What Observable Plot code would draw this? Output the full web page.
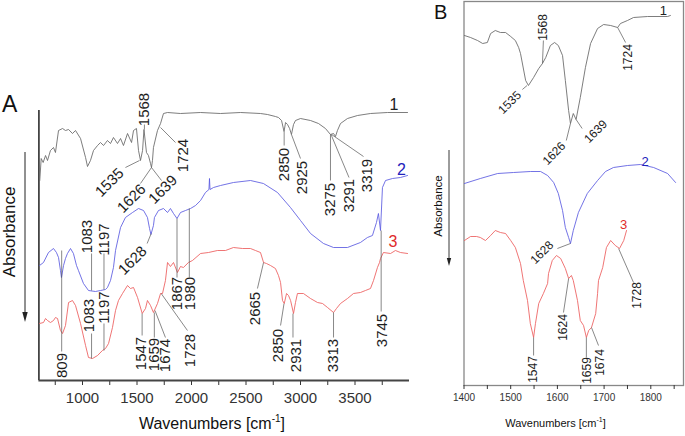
<!DOCTYPE html>
<html>
<head>
<meta charset="utf-8">
<script src="https://cdn.jsdelivr.net/npm/d3@7"></script>
<script src="https://cdn.jsdelivr.net/npm/@observablehq/plot@0.6"></script>
<style>
html,body{margin:0;padding:0;background:#fff;}
#wrap{position:relative;width:685px;height:436px;overflow:hidden;background:#fff;}
#wrap svg{position:absolute;left:0;top:0;}
</style>
</head>
<body>
<div id="wrap"></div>
<script>
// ---------- Panel A: wavenumber (cm-1) vs. absorbance (a.u., spectra offset) ----------
const waveA1 = [608,621,639,661,679,706,734,752,780,817,844,872,908,936,982,1028,1046,1073,1101,1138,1165,1193,1229,1257,1284,1321,1349,1376,1413,1450,1468,1495,1514,1532,1551,1564,1587,1605,1624,1633,1642,1651,1688,1716,1743,1780,1899,2083,2266,2450,2633,2697,2770,2798,2826,2849,2863,2881,2900,2917,2936,2954,3000,3092,3165,3229,3275,3303,3321,3339,3367,3431,3523,3642,3798,3982];
const absA1  = [200,222,218,225,220,230,233,228,250,252,250,251,247,250,242,223,214,220,230,235,238,235,240,237,243,237,242,235,247,238,250,252,230,220,230,251,228,225,217,213,220,233,250,257,267,268,267,268,267,268,267,266,264,263,260,249,258,256,252,246,256,260,262,260,257,252,246,247,244,250,257,262,265,267,268,268];

const waveA2 = [606,642,688,734,761,780,798,807,826,844,862,890,917,945,963,1009,1055,1119,1165,1211,1229,1257,1284,1303,1349,1394,1459,1514,1560,1596,1615,1628,1651,1660,1697,1743,1780,1807,1835,1867,1899,1945,1991,2037,2083,2128,2160,2165,2170,2202,2266,2385,2541,2660,2789,2908,3000,3092,3211,3303,3431,3550,3614,3660,3697,3715,3734,3752,3780,3844,3917,3982];
const absA2  = [115,118,128,132,128,123,110,103,115,122,127,132,127,115,110,97,90,89,90,91,93,100,113,130,153,163,168,172,170,163,152,146,155,163,170,172,168,172,167,162,168,170,172,175,180,188,191,202,191,193,195,198,200,197,188,173,160,147,137,133,133,138,143,145,158,167,150,193,200,202,203,205];

const waveA3 = [606,642,661,679,706,734,752,771,798,817,844,872,908,936,982,1028,1055,1092,1138,1183,1211,1239,1275,1303,1330,1367,1413,1440,1468,1505,1548,1578,1596,1624,1651,1688,1716,1734,1761,1780,1807,1835,1871,1899,1926,1972,2009,2083,2156,2238,2312,2385,2468,2541,2587,2633,2661,2688,2725,2770,2798,2817,2835,2851,2872,2890,2909,2936,2954,2972,3027,3092,3156,3202,3248,3303,3330,3367,3431,3486,3550,3596,3642,3670,3706,3725,3734,3761,3826,3871,3917,3982];
const absA3  = [57,58,62,60,58,60,63,62,50,47,55,78,80,75,57,35,23,22,25,30,32,37,53,70,80,87,95,92,93,83,67,72,80,75,68,77,87,87,100,118,114,118,108,114,113,118,120,127,128,130,130,133,132,132,130,128,118,117,115,112,105,98,80,77,87,85,80,67,78,87,87,82,78,77,73,68,72,77,82,87,88,90,92,100,113,118,122,128,127,130,128,127];

const ticksA = [750,1000,1250,1500,1750,2000,2250,2500,2750,3000,3250,3500,3750];
const tickLabelsA = [1000,1500,2000,2500,3000,3500];

// peak annotations, panel A: leader from (x1,y1) to (x2,y2), label centred at (tx,ty), rotation r
const annA1 = [
  {t:"1568", x1:1568, y1:251, x2:1568, y2:256, tx:1570, ty:271, r:-90},
  {t:"1535", x1:1523, y1:220, x2:1394, y2:213, tx:1248, ty:198, r:-45},
  {t:"1626", x1:1633, y1:213, x2:1532, y2:197, tx:1450, ty:182, r:-45},
  {t:"1639", x1:1633, y1:213, x2:1725, y2:200, tx:1738, ty:191, r:-45},
  {t:"1724", x1:1716, y1:253, x2:1853, y2:238, tx:1922, ty:225, r:-90},
  {t:"2850", x1:2850, y1:249, x2:2850, y2:235, tx:2853, ty:216, r:-90},
  {t:"2925", x1:2917, y1:246, x2:3000, y2:222, tx:3014, ty:203, r:-90},
  {t:"3275", x1:3275, y1:246, x2:3275, y2:200, tx:3275, ty:181, r:-90},
  {t:"3291", x1:3280, y1:246, x2:3445, y2:203, tx:3445, ty:185, r:-90},
  {t:"3319", x1:3285, y1:246, x2:3578, y2:224, tx:3610, ty:205, r:-90}
];
const annA2 = [
  {t:"1083", x1:1083, y1:90,  x2:1083, y2:127, tx:1040, ty:144, r:-90},
  {t:"1197", x1:1197, y1:91,  x2:1197, y2:127, tx:1202, ty:141, r:-90},
  {t:"1628", x1:1630, y1:147, x2:1593, y2:137, tx:1459, ty:120, r:-45},
  {t:"1867", x1:1867, y1:162, x2:1867, y2:103, tx:1867, ty:87,  r:-90},
  {t:"1980", x1:1980, y1:172, x2:1980, y2:103, tx:1985, ty:87,  r:-90},
  {t:"809",  x1:809,  y1:130, x2:809,  y2:29,  tx:812,  ty:15,  r:-90},
  {t:"3745", x1:3740, y1:150, x2:3740, y2:69,  tx:3748, ty:50,  r:-90}
];
const annA3 = [
  {t:"1083", x1:1083, y1:22, x2:1083, y2:47, tx:1064, ty:65, r:-90},
  {t:"1197", x1:1197, y1:30, x2:1197, y2:57, tx:1202, ty:73, r:-90},
  {t:"1547", x1:1547, y1:67, x2:1547, y2:45, tx:1540, ty:27, r:-90},
  {t:"1659", x1:1659, y1:68, x2:1659, y2:43, tx:1658, ty:26, r:-90},
  {t:"1674", x1:1665, y1:70, x2:1761, y2:43, tx:1761, ty:25, r:-90},
  {t:"1728", x1:1722, y1:87, x2:1963, y2:50, tx:1985, ty:30, r:-90},
  {t:"2665", x1:2661, y1:118, x2:2605, y2:92, tx:2587, ty:72, r:-90},
  {t:"2850", x1:2849, y1:77, x2:2817, y2:55, tx:2793, ty:35, r:-90},
  {t:"2931", x1:2931, y1:67, x2:2931, y2:43, tx:2963, ty:25, r:-90},
  {t:"3313", x1:3303, y1:68, x2:3303, y2:43, tx:3298, ty:25, r:-90}
];
const curveLabelsA = [{t:"1", x:3858, y:276}, {t:"2", x:3926, y:211}, {t:"3", x:3848, y:139}];

// ---------- Panel B: amide region ----------
const waveB1 = [1401,1414,1429,1440,1450,1457,1467,1478,1489,1500,1510,1517,1521,1532,1538,1549,1560,1568,1575,1585,1594,1602,1611,1617,1624,1628,1634,1640,1649,1660,1671,1686,1699,1714,1729,1735,1750,1763,1793,1836,1842];
const absB1  = [350,348,345,342,343,352,355,353,353,349,345,338,332,305,300,308,317,322,328,340,343,340,330,305,275,262,272,266,288,318,342,357,361,360,358,362,365,368,369,369,370];

const waveB2 = [1401,1435,1472,1506,1542,1564,1579,1592,1602,1611,1617,1624,1628,1634,1645,1664,1686,1703,1720,1750,1778,1806,1836,1853];
const absB2  = [202,207,212,213,214,214,210,203,192,175,158,148,142,155,173,192,205,214,218,220,221,218,212,203];

const waveB3 = [1401,1414,1427,1435,1446,1457,1467,1478,1489,1500,1510,1521,1527,1536,1542,1549,1553,1560,1570,1579,1581,1589,1598,1607,1617,1624,1630,1634,1643,1649,1656,1662,1667,1673,1682,1686,1688,1697,1705,1714,1724,1733,1742,1748];
const absB3  = [145,149,149,148,145,150,155,153,152,145,138,122,105,85,62,48,62,82,92,102,112,125,130,127,117,107,110,105,85,65,60,48,55,58,72,92,105,118,138,145,140,137,145,155];

const ticksB = [1400,1450,1500,1550,1600,1650,1700,1750,1800,1850];
const tickLabelsB = [1400,1500,1600,1700,1800];

const annB1 = [
  {t:"1568", x1:1568, y1:322, x2:1570, y2:345, tx:1569, ty:358, r:-90},
  {t:"1535", x1:1535, y1:300, x2:1525, y2:296, tx:1498, ty:283, r:-45},
  {t:"1626", x1:1628, y1:262, x2:1619, y2:245, tx:1593, ty:232, r:-45},
  {t:"1639", x1:1640, y1:266, x2:1653, y2:257, tx:1682, ty:254, r:-45},
  {t:"1724", x1:1729, y1:358, x2:1746, y2:343, tx:1751, ty:328, r:-90}
];
const annB2 = [
  {t:"1628", x1:1628, y1:142, x2:1600, y2:137, tx:1567, ty:133, r:-45}
];
const annB3 = [
  {t:"1547", x1:1549, y1:48,  x2:1549, y2:30,  tx:1548, ty:16, r:-90},
  {t:"1624", x1:1624, y1:107, x2:1613, y2:73,  tx:1613, ty:58, r:-90},
  {t:"1659", x1:1662, y1:48,  x2:1662, y2:28,  tx:1664, ty:15, r:-90},
  {t:"1674", x1:1673, y1:58,  x2:1688, y2:40,  tx:1692, ty:23, r:-90},
  {t:"1728", x1:1731, y1:137, x2:1763, y2:103, tx:1771, ty:90, r:-90}
];
const curveLabelsB = [{t:"1", x:1827, y:375}, {t:"2", x:1788, y:224}, {t:"3", x:1742, y:161}];

// ---------- drawing ----------
const FONT = '"Liberation Sans", Arial, Helvetica, sans-serif';
const C1 = "#666666", C2 = "#5a5ae0", C3 = "#ec5c5c";
const L1 = "#222222", L2 = "#2222bb", L3 = "#e02a2a";
const rows = (ws, vs) => ws.map((w, i) => ({w, v: vs[i]}));

function spectraMarks(curves, anns, fs) {
  const m = [];
  curves.forEach(([data, col]) => m.push(Plot.line(data, {x: "w", y: "v", stroke: col, strokeWidth: 0.85})));
  anns.forEach(a => {
    m.push(Plot.link(a, {x1: "x1", y1: "y1", x2: "x2", y2: "y2", stroke: "#555", strokeWidth: 0.7}));
    m.push(Plot.text(a, {x: "tx", y: "ty", text: "t", rotate: "r", fontSize: fs, fill: "#1e1e1e"}));
  });
  return m;
}

const plotA = Plot.plot({
  width: 685, height: 436,
  marginLeft: 38.4, marginRight: 276, marginTop: 110, marginBottom: 56,
  x: {domain: [600, 4000], label: null},
  y: {domain: [0, 270], axis: null},
  style: {background: "transparent", fontFamily: FONT, fontSize: "15px", color: "#333", overflow: "visible"},
  marks: [
    Plot.axisX({ticks: ticksA, tickSize: 5, tickPadding: 7, label: null,
      tickFormat: d => tickLabelsA.includes(d) ? String(d) : ""}),
    Plot.ruleY([0], {stroke: "#444", strokeWidth: 1.8}),
    Plot.ruleX([600], {stroke: "#444", strokeWidth: 1.8}),
    ...spectraMarks([[rows(waveA1, absA1), C1], [rows(waveA2, absA2), C2], [rows(waveA3, absA3), C3]],
                    [annA1, annA2, annA3], 15),
    Plot.text(curveLabelsA, {x: "x", y: "y", text: "t", fontSize: 16,
      fill: d => d.t === "1" ? L1 : d.t === "2" ? L2 : L3})
  ]
});

const plotB = Plot.plot({
  width: 685, height: 436,
  marginLeft: 463.5, marginRight: 2, marginTop: 1, marginBottom: 51,
  x: {domain: [1400, 1870], label: null},
  y: {domain: [0, 384], axis: null},
  style: {background: "transparent", fontFamily: FONT, fontSize: "10px", color: "#333", overflow: "visible"},
  marks: [
    Plot.frame({stroke: "#888", strokeWidth: 1.3}),
    Plot.axisX({ticks: ticksB, tickSize: 4, tickPadding: 4, label: null,
      tickFormat: d => tickLabelsB.includes(d) ? String(d) : ""}),
    ...spectraMarks([[rows(waveB1, absB1), C1], [rows(waveB2, absB2), C2], [rows(waveB3, absB3), C3]],
                    [annB1, annB2, annB3], 12),
    Plot.text(curveLabelsB, {x: "x", y: "y", text: "t", fontSize: 13,
      fill: d => d.t === "1" ? L1 : d.t === "2" ? L2 : L3})
  ]
});

const wrap = document.getElementById("wrap");
wrap.appendChild(plotA);
wrap.appendChild(plotB);

// panel letters, axis titles, absorbance arrows
const ns = "http://www.w3.org/2000/svg";
const deco = document.createElementNS(ns, "svg");
deco.setAttribute("width", 685); deco.setAttribute("height", 436);
deco.style.fontFamily = FONT;
deco.innerHTML = `
  <text x="2" y="112" font-size="23" fill="#111">A</text>
  <text x="434" y="19" font-size="20" fill="#111">B</text>
  <text transform="translate(15,232) rotate(-90)" text-anchor="middle" font-size="17" fill="#111">Absorbance</text>
  <line x1="25" y1="152" x2="25" y2="314" stroke="#222" stroke-width="1"/>
  <polygon points="25,322 22.3,312 27.7,312" fill="#222"/>
  <text transform="translate(442,206) rotate(-90)" text-anchor="middle" font-size="11.5" fill="#111">Absorbance</text>
  <line x1="449" y1="150" x2="449" y2="259" stroke="#222" stroke-width="0.9"/>
  <polygon points="449,266 446.8,258 451.2,258" fill="#222"/>
  <text x="212" y="429" text-anchor="middle" font-size="16" fill="#111">Wavenumbers [cm<tspan font-size="10" dy="-7">-1</tspan><tspan dy="7">]</tspan></text>
  <text x="555.5" y="427" text-anchor="middle" font-size="11" fill="#111">Wavenumbers [cm<tspan font-size="7" dy="-5">-1</tspan><tspan dy="5">]</tspan></text>
`;
wrap.appendChild(deco);
</script>
</body>
</html>
